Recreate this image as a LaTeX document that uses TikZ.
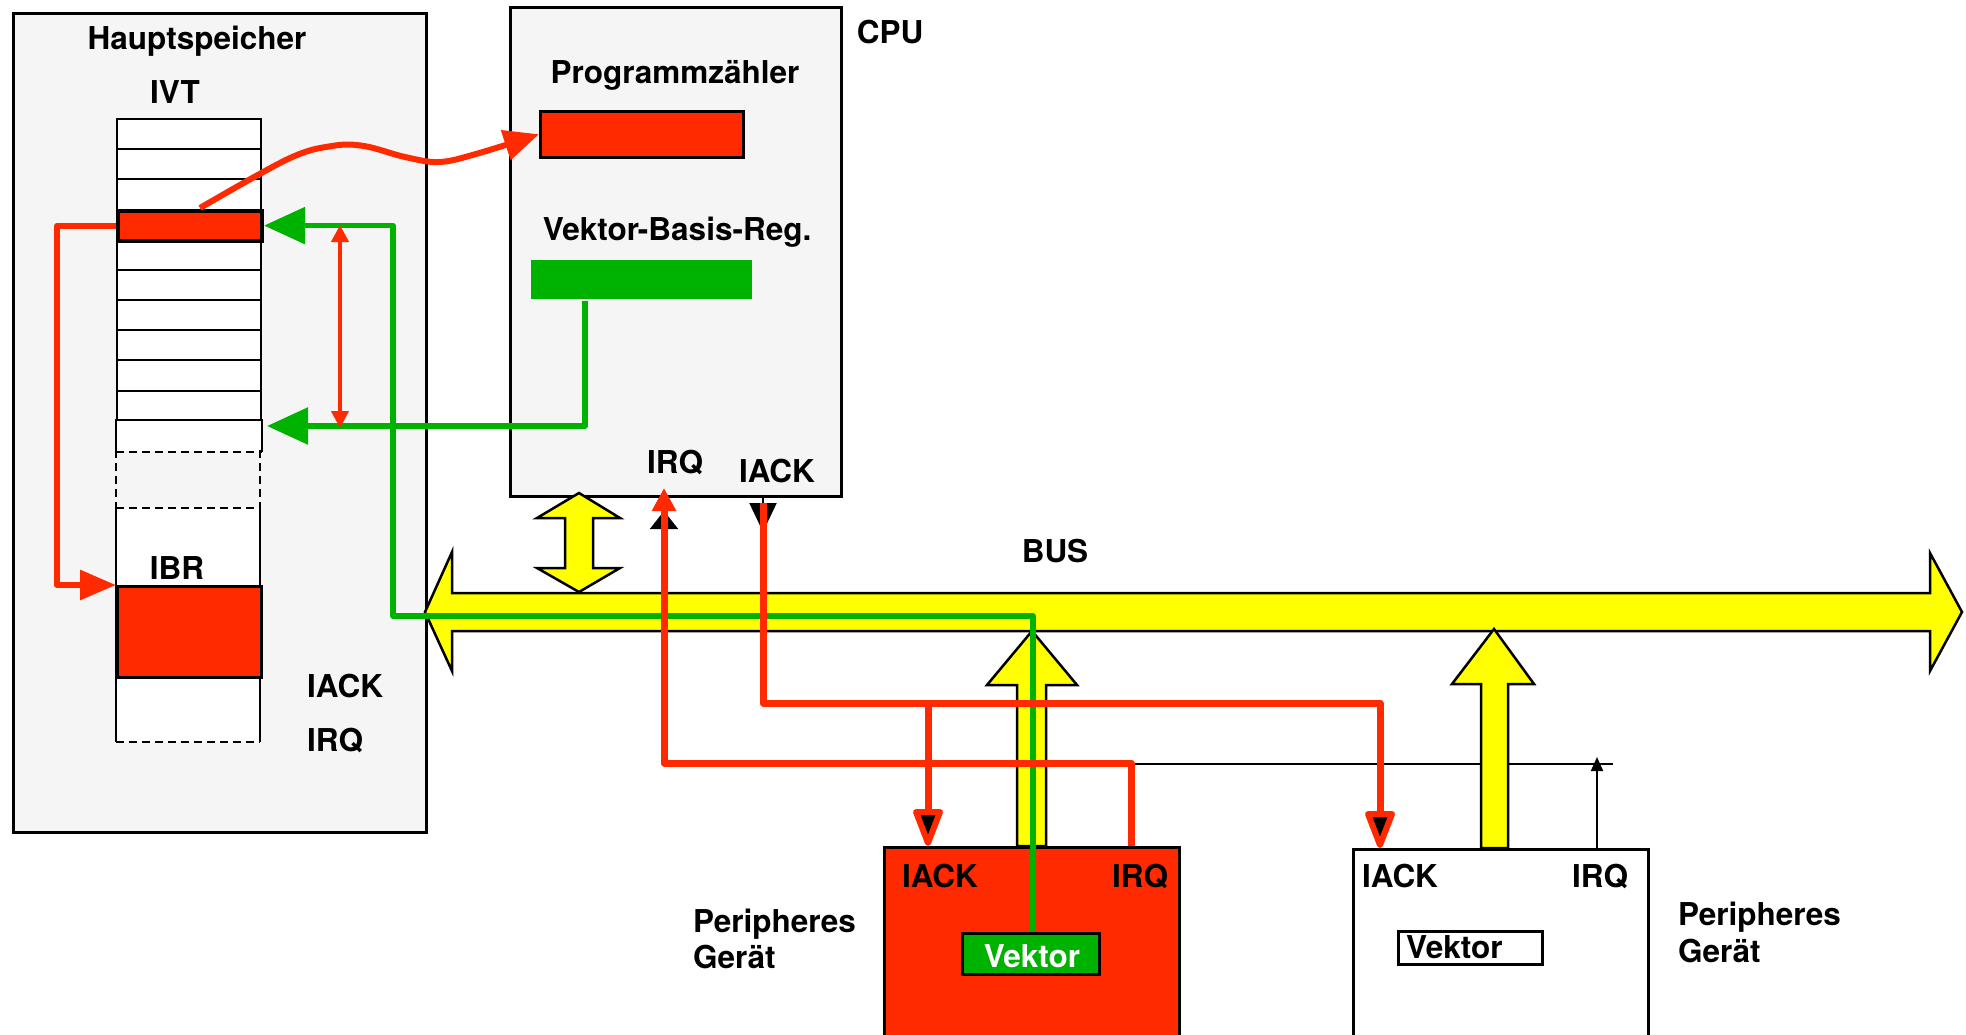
\documentclass[tikz,border=0pt]{standalone}
\usepackage{fontspec}
\setmainfont{TeX Gyre Heros}
\usepackage{xcolor}
\usetikzlibrary{arrows.meta}
\definecolor{ivtred}{HTML}{FF2A00}
\definecolor{regnr}{HTML}{00B200}
\definecolor{busyel}{HTML}{FFFF00}
\definecolor{panelgray}{HTML}{F5F5F5}

\begin{document}
\begin{tikzpicture}[x=1pt,y=-1pt,
  lbl/.style={font=\bfseries\fontsize{31.5}{36}\selectfont, inner sep=0pt},
  panel/.style={draw, line width=2.5pt, fill=panelgray, anchor=north west, inner sep=0pt},
  cell/.style={draw, line width=2pt, fill=white, anchor=north west, inner sep=0pt, minimum width=144pt, minimum height=30.18pt},
  redln/.style={draw=ivtred, line width=7pt, line join=round},
  grnln/.style={draw=regnr, line width=5.5pt, line join=round},
  yel/.style={fill=busyel, draw=black, line width=2.5pt, line join=miter},
  pin/.style={line width=2pt},
  devtip/.style={draw=ivtred, line width=6pt, line join=round, fill=black}
]
\useasboundingbox (0,0) rectangle (1966,1034);

\node[panel, minimum width=413pt, minimum height=819pt] (mem) at (12,12) {};
\node[panel, minimum width=331pt, minimum height=489pt] (cpu) at (509,6) {};

\foreach \i in {0,...,9}
  \node[cell] (r\i) at (116,{118+30.18*\i}) {};
\node[cell, draw=none] (r10) at (116,419.8) {};
\draw[pin] (r10.south west) -- (r10.north west) -- (r10.north east) -- (r10.south east);
\draw[pin, dash pattern=on 8pt off 5pt] (r10.south west) -- (r10.south east);
\node[anchor=north west, inner sep=0pt, minimum width=144pt, minimum height=58pt] (gap) at (116,450) {};
\draw[pin, dash pattern=on 8pt off 5pt] (gap.north west) -- (gap.south west) (gap.north east) -- (gap.south east);
\node[anchor=north west, fill=white, inner sep=0pt, minimum width=144pt, minimum height=234pt] (blk) at (116,508) {};
\draw[pin] (blk.north west) -- (blk.south west) (blk.north east) -- (blk.south east);
\draw[pin, dash pattern=on 8pt off 5pt] (blk.north west) -- (blk.north east) (blk.south west) -- (blk.south east);
\node[cell, fill=ivtred, minimum height=91pt, line width=2.5pt] (ibr) at (116,585) {};
\node[cell, fill=ivtred, line width=4pt] (r3) at (116,208.5) {};

\node[panel, fill=ivtred, minimum width=203pt, minimum height=46pt] (pc) at (539,110) {};
\node[panel, draw=none, fill=regnr, minimum width=221pt, minimum height=39pt] (vbr) at (530,259) {};

\draw[yel] (425,612) -- (452,552) -- (452,593) -- (1930,593) -- (1930,553) -- (1962,612)
  -- (1930,671) -- (1930,631) -- (452,631) -- (452,671) -- cycle;
\draw[yel] (579,493) -- (620,518) -- (593,518) -- (593,568) -- (620,568) -- (579,592)
  -- (537,568) -- (565,568) -- (565,518) -- (537,518) -- cycle;

\coordinate (cpuirq) at (664,495);
\coordinate (cpuiack) at (763,495);
\coordinate (d1iack) at (928,846);
\coordinate (d1irq) at (1131,846);
\coordinate (d2iack) at (1380,848);
\coordinate (d2irq) at (1597,848);
\coordinate (vbrtip) at (267,426);
\coordinate (offa) at (340,225);
\coordinate (offb) at (340,428);

\draw[pin, -{Triangle[length=29pt,width=27pt]}] (cpuiack) -- ([yshift=-37pt]cpuiack);
\draw[pin, -{Triangle[length=18pt,width=28pt]}] ([yshift=-40pt]cpuirq) -- ([yshift=-16pt]cpuirq);
\draw[pin] ([yshift=82pt]d1irq) -- ([xshift=16pt,yshift=84pt]d2irq);
\draw[pin, -{Triangle[length=14pt,width=12pt]}] (d2irq) -- ([yshift=91pt]d2irq);

\node[panel, fill=ivtred, minimum width=295pt, minimum height=210pt] (dev1) at (883,846) {};
\node[panel, fill=white, minimum width=295pt, minimum height=210pt] (dev2) at (1352,848) {};
\draw[yel] (1032,631) -- (1077,685) -- (1046,685) -- (1046,846) -- (1017,846) -- (1017,685) -- (987,685) -- cycle;
\draw[yel] (1494,629) -- (1534,684) -- (1508,684) -- (1508,848) -- (1481,848) -- (1481,684) -- (1452,684) -- cycle;
\node[panel, fill=regnr, minimum width=137pt, minimum height=41pt] (vek1) at (961,932) {};
\node[panel, fill=white, minimum width=144pt, minimum height=33pt] (vek2) at (1397,930) {};

\draw[grnln, -{Triangle[length=41pt,width=36pt]}] ([xshift=55pt]vbr.south west) |- (vbrtip);
\draw[grnln, -{Triangle[length=41pt,width=36pt]}] ([xshift=2pt]vek1.north) |- (393,616) |- (r3.east);

\draw[redln, line width=6pt, -{Triangle[length=36pt,width=29pt]}] (r3.west) -| ([xshift=-59pt]ibr.north west) -- (ibr.north west);
\draw[redln, line width=6pt, -{Triangle[length=35pt,width=30pt]}] plot[smooth, tension=.6] coordinates {(200,208) (288,159) (332,146) (364,146) (405,157) (439,162) (476,154) (pc.west)};
\draw[redln, line width=4pt, {Triangle[length=17pt,width=17pt]}-{Triangle[length=17pt,width=17pt]}] (offa) -- (offb);
\draw[redln, -{Triangle[length=23pt,width=23pt]}] (d1irq) |- ([yshift=-268pt]cpuirq) -- ([yshift=7pt]cpuirq);
\draw[redln] ([yshift=-8pt]cpuiack) |- ([yshift=145pt]d2iack) -- ([yshift=33pt]d2iack);
\draw[redln] ([yshift=143pt]d1iack) -- ([yshift=33pt]d1iack);
\draw[devtip] ([yshift=3pt]d1iack) -- ++(-12,-31) -- ++(24,0) -- cycle;
\draw[devtip] ([yshift=3pt]d2iack) -- ++(-12,-31) -- ++(24,0) -- cycle;

\node[lbl, anchor=base] (hs) at (197,49) {Hauptspeicher};
\node[lbl, anchor=base] (ivt) at (175,103) {IVT};
\node[lbl, anchor=base] (ibrl) at (177,579) {IBR};
\node[lbl, anchor=base west] (miack) at (307,697) {IACK};
\node[lbl, anchor=base west] (mirq) at (307,751) {IRQ};
\node[lbl, anchor=base] (cpul) at (890,43) {CPU};
\node[lbl, anchor=base] (pcl) at (675,83) {Programmzähler};
\node[lbl, anchor=base] (vbrl) at (677,240) {Vektor-Basis-Reg.};
\node[lbl, anchor=base] (cirq) at (675,473) {IRQ};
\node[lbl, anchor=base] (ciack) at (777,482) {IACK};
\node[lbl, anchor=base] (busl) at (1055,562) {BUS};
\node[lbl, anchor=base] (d1iackl) at (940,887) {IACK};
\node[lbl, anchor=base] (d1irql) at (1140,887) {IRQ};
\node[lbl, anchor=base, text=white] (vek1l) at (1032,967) {Vektor};
\node[lbl, anchor=base] (d2iackl) at (1400,887) {IACK};
\node[lbl, anchor=base] (d2irql) at (1600,887) {IRQ};
\node[lbl, anchor=base west] (vek2l) at (1406,958) {Vektor};
\node[lbl, anchor=base west] (pg1a) at (693,932) {Peripheres};
\node[lbl, anchor=base west] (pg1b) at (693,968) {Gerät};
\node[lbl, anchor=base west] (pg2a) at (1678,925) {Peripheres};
\node[lbl, anchor=base west] (pg2b) at (1678,962) {Gerät};
\end{tikzpicture}
\end{document}
